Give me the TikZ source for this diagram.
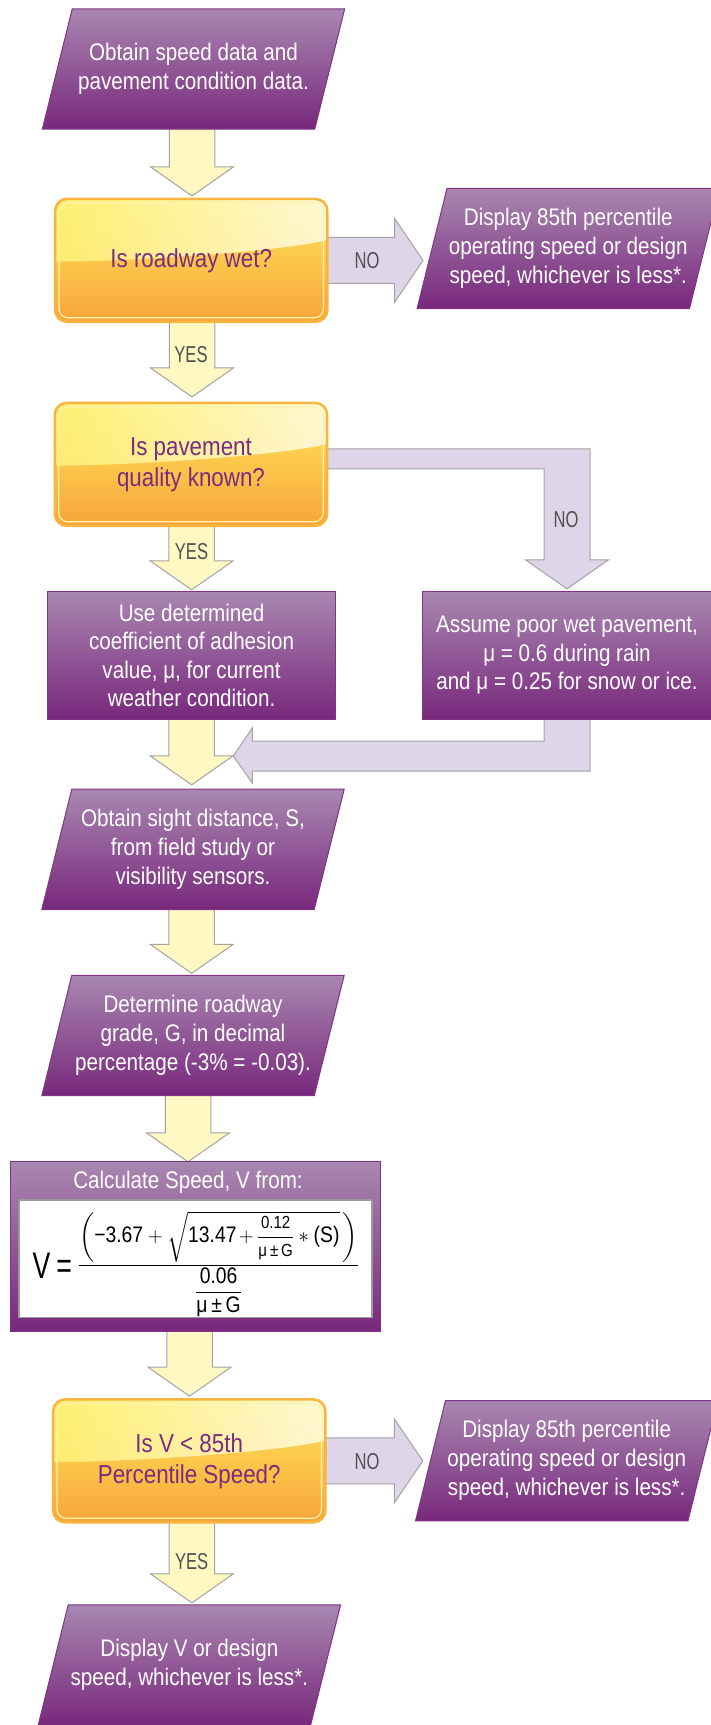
\documentclass[tikz,border=0pt]{standalone}
\usepackage{tikz}
\usepackage{amsmath}
\usepackage{fontspec}
\setmainfont{Liberation Sans}[FakeStretch=0.86]
\newfontfamily\lblfont{Liberation Sans}[FakeStretch=0.72]
\usetikzlibrary{calc}
\pgfdeclarelayer{arrows}
\pgfdeclarelayer{shapes}
\pgfsetlayers{arrows,shapes,main}
\definecolor{purTop}{HTML}{A987B1}
\definecolor{purBot}{HTML}{78287C}
\definecolor{purLine}{HTML}{7E3584}
\definecolor{decTop}{HTML}{FFE75A}
\definecolor{decMid}{HTML}{FDCC48}
\definecolor{decBot}{HTML}{F8A53B}
\definecolor{glossL}{HTML}{FFF277}
\definecolor{glossR}{HTML}{FFFCE8}
\definecolor{decBorder}{HTML}{F8B43E}
\definecolor{decInner}{HTML}{FFF4AE}
\definecolor{decText}{HTML}{7A2C80}
\definecolor{yFill}{HTML}{FFF8C2}
\definecolor{lFill}{HTML}{DFD5E8}
\definecolor{arrLine}{HTML}{A3A3A3}
\definecolor{lblCol}{HTML}{505050}
\definecolor{fboxLine}{HTML}{9A9A9A}

\newcommand\pgram[4]{%
  \node[ptext] (#1) at (#2,#3) {#4};
  \begin{pgfonlayer}{shapes}
    \shade[purshade] ($(#1.north west)+(15,0)$) -- ($(#1.north east)+(15,0)$) -- ($(#1.south east)+(-15,0)$) -- ($(#1.south west)+(-15,0)$) -- cycle;
  \end{pgfonlayer}}
\newcommand\rectbox[4]{%
  \node[rtext] (#1) at (#2,#3) {#4};
  \begin{pgfonlayer}{shapes}
    \shade[purshade] (#1.north west) rectangle (#1.south east);
  \end{pgfonlayer}}
\newcommand\decbox[4]{%
  \node[dtext] (#1) at (#2,#3) {#4};
  \begin{pgfonlayer}{shapes}
    \shade[rounded corners=12pt, top color=decTop, middle color=decMid, bottom color=decBot] (#1.north west) rectangle (#1.south east);
    \begin{scope}
      \clip[rounded corners=12pt] (#1.north west) rectangle (#1.south east);
      \shade[left color=glossL, right color=glossR, fill opacity=0.85]
        (#1.north west) -- (#1.north east) -- ($(#1.north east)!0.334!(#1.south east)$)
        .. controls ($(#1.north east)!0.43!(#1.south east)+(-47,0)$) and ($(#1.north west)!0.51!(#1.south west)+(75,0)$)
        .. ($(#1.north west)!0.51!(#1.south west)$) -- cycle;
    \end{scope}
    \draw[rounded corners=12pt, draw=decBorder, line width=2.5pt] (#1.north west) rectangle (#1.south east);
    \draw[rounded corners=9pt, draw=decInner, line width=1.2pt] ($(#1.north west)+(4,4)$) rectangle ($(#1.south east)+(-4,-4)$);
  \end{pgfonlayer}}
\newcommand\downarr[2]{%
  \begin{pgfonlayer}{arrows}
    \path[yarr] let \p1=(#1), \p2=(#2) in
      (\x2-22.75pt,\y1) -- (\x2-22.75pt,\y2+29pt) -- (\x2-41.5pt,\y2+29pt) -- (\x2,\y2)
      -- (\x2+41.5pt,\y2+29pt) -- (\x2+22.75pt,\y2+29pt) -- (\x2+22.75pt,\y1);
  \end{pgfonlayer}}
\newcommand\rightarr[2]{%
  \begin{pgfonlayer}{arrows}
    \path[larr] let \p1=(#1), \p2=(#2) in
      (\x1,\y1+23pt) -- (\x2-28.5pt,\y1+23pt) -- (\x2-28.5pt,\y1+42pt) -- (\x2,\y1)
      -- (\x2-28.5pt,\y1-42pt) -- (\x2-28.5pt,\y1-23pt) -- (\x1,\y1-23pt);
  \end{pgfonlayer}}
\newcommand\smallfr[1]{\text{\fontsize{17.5}{17.5}\selectfont #1}}

\begin{document}
\begin{tikzpicture}[x=1pt,y=-1pt,
  ptext/.style={minimum width=272pt, minimum height=120pt, inner sep=0pt, align=center, text=white, font=\fontsize{24}{29}\selectfont},
  rtext/.style={minimum width=288pt, minimum height=127.3pt, inner sep=0pt, align=center, text=white, font=\fontsize{24}{28.5}\selectfont},
  dtext/.style={minimum width=272pt, minimum height=122.5pt, inner sep=0pt, align=center, text=decText, font=\fontsize{26}{31}\selectfont},
  lbl/.style={inner sep=0pt, text=lblCol, font=\lblfont\fontsize{23}{23}\selectfont},
  yarr/.style={fill=yFill, draw=arrLine, line width=1pt},
  larr/.style={fill=lFill, draw=arrLine, line width=1pt},
  purshade/.style={top color=purTop, bottom color=purBot, draw=purLine, line width=1pt},
]
\useasboundingbox (0,0) rectangle (711,1725);

% nodes
\pgram{p1}{193.5}{69}{Obtain speed data and\\pavement condition data.}
\decbox{d1}{191.2}{260.35}{Is roadway wet?}
\pgram{p2}{568.25}{248.5}{Display 85th percentile\\operating speed or design\\speed, whichever is less*.}
\decbox{d2}{191}{464.35}{Is pavement\\quality known?}
\rectbox{r1}{191.6}{655.35}{Use determined\\coefficient of adhesion\\value, μ, for current\\weather condition.}
\rectbox{r2}{567}{655.35}{Assume poor wet pavement,\\μ = 0.6 during rain\\and μ = 0.25 for snow or ice.}
\pgram{p3}{193}{849.3}{Obtain sight distance, S,\\from field study or\\visibility sensors.}
\pgram{p4}{193}{1035.5}{Determine roadway\\grade, G, in decimal\\percentage (-3\% = -0.03).}

\node[minimum width=369pt, minimum height=169.7pt, inner sep=0pt] (calc) at (195.5,1246.85) {};
\begin{pgfonlayer}{shapes}
  \shade[purshade] (calc.north west) rectangle (calc.south east);
\end{pgfonlayer}
\node[inner sep=0pt, text=white, font=\fontsize{24}{29}\selectfont] (ctitle) at (188,1182) {Calculate Speed, V from:};
\node[fill=white, draw=fboxLine, line width=1.5pt, minimum width=353pt, minimum height=117.7pt, inner sep=0pt] (fbox) at (195.5,1258.85) {};
\node[inner sep=0pt, font=\fontsize{22.5}{26}\selectfont] (formula) at (196,1264)
  {$\medmuskip=4mu\raisebox{-8pt}{\lblfont\fontsize{37}{37}\selectfont V\,=}\;
    \dfrac{\left(\text{−3.67}+\sqrt{\text{13.47}\mkern-2mu+\mkern-1mu\dfrac{\smallfr{0.12}}{\smallfr{μ\,±\,G}}\ast\text{(S)}}\,\right)}
          {\dfrac{\text{0.06}}{\text{μ\,±\,G}}}$};

\decbox{d3}{189.25}{1460.85}{Is V < 85th\\Percentile Speed?}
\pgram{p5}{566.7}{1460.7}{Display 85th percentile\\operating speed or design\\speed, whichever is less*.}
\pgram{p6}{189.4}{1665}{Display V or design\\speed, whichever is less*.}

\coordinate (m) at (233.3,756);

% labels
\node[lbl] (no1) at (367,261) {NO};
\node[lbl] (yes1) at (191,355) {YES};
\node[lbl] (no2) at (566,520) {NO};
\node[lbl] (yes2) at (191.5,552) {YES};
\node[lbl] (no3) at (367,1462) {NO};
\node[lbl] (yes3) at (191.6,1562) {YES};

% connectors
\downarr{p1.south}{$(d1.north)+(0.8,-3)$}
\rightarr{d1.east}{$(p2.west)+(-9,0)$}
\downarr{d1.south}{$(d2.north)+(1,-6)$}
\begin{pgfonlayer}{arrows}
  \path[larr] let \p1=(d2.east), \p2=(r2.north) in
    (\x1,\y1+15.5pt) -- (\x2+23pt,\y1+15.5pt) -- (\x2+23pt,\y2+31.7pt) -- (\x2+41.5pt,\y2+31.7pt)
    -- (\x2,\y2+2.7pt) -- (\x2-41.5pt,\y2+31.7pt) -- (\x2-23pt,\y2+31.7pt) -- (\x2-23pt,\y1-4.5pt) -- (\x1,\y1-4.5pt);
\end{pgfonlayer}
\downarr{d2.south}{$(r1.north)+(0,-1.7)$}
\downarr{r1.south}{$(p3.north)+(-1.3,-4.3)$}
\begin{pgfonlayer}{arrows}
  \path[larr] let \p1=(r2.south), \p2=(m) in
    (\x1+23pt,\y1) -- (\x1+23pt,\y2-15pt) -- (\x2+19pt,\y2-15pt) -- (\x2+19pt,\y2-27pt) -- (\x2,\y2)
    -- (\x2+19pt,\y2+28pt) -- (\x2+19pt,\y2+15pt) -- (\x1-23pt,\y2+15pt) -- (\x1-23pt,\y1);
\end{pgfonlayer}
\downarr{p3.south}{$(p4.north)+(-1.3,-2)$}
\downarr{p4.south}{$(calc.north)+(-7.5,0)$}
\downarr{calc.south}{$(d3.north)+(0.25,-3.3)$}
\rightarr{d3.east}{$(p5.west)+(-7.7,0)$}
\downarr{d3.south}{$(p6.north)+(2.5,-2)$}
\end{tikzpicture}
\end{document}
